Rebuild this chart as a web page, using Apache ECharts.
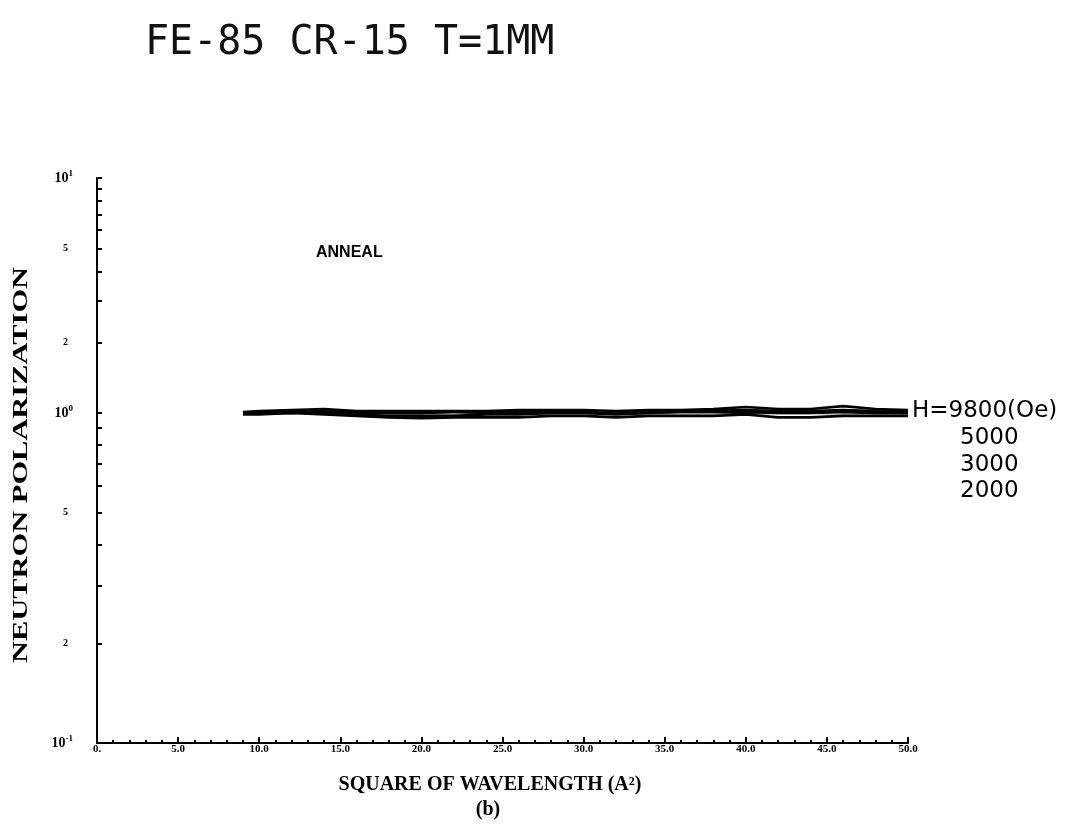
<!DOCTYPE html>
<html>
<head>
<meta charset="utf-8">
<script src="https://cdn.jsdelivr.net/npm/echarts@6/dist/echarts.min.js"></script>
<style>
  html, body { margin: 0; padding: 0; background: #fff; }
  #chart { width: 1076px; height: 826px; }
</style>
</head>
<body>
<div id="chart"></div>
<script>
// Square of wavelength (A^2) at which the polarization was sampled
const lambdaSq = [9, 10, 12, 14, 16, 18, 20, 22, 24, 26, 28, 30, 32, 34, 36, 38, 40, 42, 44, 46, 48, 50];

// Neutron polarization for each applied field
const pol9800 = [1.01, 1.02, 1.03, 1.04, 1.02, 1.02, 1.02, 1.02, 1.02, 1.03, 1.03, 1.03, 1.02, 1.03, 1.03, 1.04, 1.06, 1.04, 1.04, 1.07, 1.04, 1.03];
const pol5000 = [1.00, 1.01, 1.01, 1.02, 1.01, 1.00, 1.00, 1.01, 1.01, 1.01, 1.02, 1.01, 1.00, 1.02, 1.02, 1.03, 1.03, 1.02, 1.02, 1.03, 1.02, 1.02];
const pol3000 = [1.00, 1.00, 1.00, 1.01, 0.99, 0.98, 0.98, 0.98, 0.99, 0.99, 1.00, 1.00, 0.99, 1.00, 1.01, 1.01, 1.01, 1.00, 1.00, 1.01, 1.00, 1.00];
const pol2000 = [0.99, 0.99, 1.00, 0.99, 0.98, 0.97, 0.965, 0.97, 0.97, 0.97, 0.98, 0.98, 0.97, 0.98, 0.98, 0.98, 0.99, 0.97, 0.97, 0.98, 0.98, 0.98];

const fieldLabels = ['H=9800(Oe)', '5000', '3000', '2000'];

// Axis ticks and labels
const xInterval = 5;
const upperTicks = [2, 3, 4, 5, 6, 7, 8, 9, 10];
const upperLabels = [2, 5, 10];
const lowerTicks = [0.1, 0.2, 0.3, 0.4, 0.5, 0.6, 0.7, 0.8, 0.9, 1];
const lowerLabels = [0.1, 0.2, 0.5, 1];

const titleText = 'FE-85 CR-15 T=1MM';
const noteText = 'ANNEAL';
const xName = 'SQUARE OF WAVELENGTH (A²)';
const panelTag = '(b)';
const yName = 'NEUTRON POLARIZATION';

const serif = '"Liberation Serif", "DejaVu Serif", serif';
const sans = '"DejaVu Sans", "Liberation Sans", sans-serif';

const seriesValues = [pol9800, pol5000, pol3000, pol2000];

function pairs(ys) {
  return lambdaSq.map((x, i) => [x, ys[i]]);
}

function near(a, b) { return Math.abs(a - b) < 1e-9; }

// Decades as 10 with a raised exponent, intermediate labels as bare digits
function yLabel(v) {
  if (near(v, 10)) return '{b|10}{s|1}';
  if (near(v, 1)) return '{b|10}{s|0}';
  if (near(v, 0.1)) return '{b|10}{s|-1}';
  if (v < 1) return '{m|' + Math.round(v * 10) + '}';
  return '{m|' + Math.round(v) + '}';
}

const richY = {
  b: { fontFamily: serif, fontWeight: 'bold', fontSize: 14, color: '#000' },
  s: { fontFamily: serif, fontWeight: 'bold', fontSize: 9, color: '#000', padding: [0, 0, 9, 0] },
  m: { fontFamily: serif, fontWeight: 'bold', fontSize: 10, color: '#000', padding: [0, 5, 0, 0] }
};

const axisLineStyle = { color: '#000', width: 2 };

// Each field is drawn in both decade panels; each copy is clipped to its panel
const series = [];
seriesValues.forEach((vals, k) => {
  [0, 1].forEach(g => {
    series.push({
      name: fieldLabels[k],
      type: 'line',
      xAxisIndex: g,
      yAxisIndex: g,
      data: pairs(vals),
      showSymbol: false,
      clip: true,
      smooth: false,
      lineStyle: { color: '#000', width: 2.6 },
      silent: true
    });
  });
});

const chart = echarts.init(document.getElementById('chart'), null, { renderer: 'canvas' });

chart.setOption({
  animation: false,
  backgroundColor: '#fff',
  grid: [
    { left: 97, right: 168, top: 178, height: 235 },
    { left: 97, right: 168, top: 413, height: 330 }
  ],
  xAxis: [
    { type: 'value', gridIndex: 0, min: 0, max: 50, show: false },
    {
      type: 'value', gridIndex: 1, min: 0, max: 50, interval: xInterval,
      axisLine: { lineStyle: axisLineStyle },
      axisTick: { inside: true, length: 6, lineStyle: { color: '#000', width: 2 } },
      minorTick: { show: true, splitNumber: 5, length: 3, lineStyle: { color: '#000', width: 2 } },
      splitLine: { show: false },
      axisLabel: {
        margin: 1,
        fontFamily: serif, fontWeight: 'bold', fontSize: 11, color: '#000',
        formatter: v => (v === 0 ? '0.' : v.toFixed(1))
      }
    }
  ],
  yAxis: [
    {
      type: 'log', gridIndex: 0, min: 1, max: 10, logBase: 10,
      axisLine: { lineStyle: axisLineStyle },
      axisTick: { inside: true, length: 5, customValues: upperTicks, lineStyle: { color: '#000', width: 2 } },
      splitLine: { show: false },
      axisLabel: {
        customValues: upperLabels, margin: 24,
        formatter: yLabel, rich: richY
      }
    },
    {
      type: 'log', gridIndex: 1, min: 0.1, max: 1, logBase: 10,
      axisLine: { lineStyle: axisLineStyle },
      axisTick: { inside: true, length: 5, customValues: lowerTicks, lineStyle: { color: '#000', width: 2 } },
      splitLine: { show: false },
      axisLabel: {
        customValues: lowerLabels, margin: 24,
        formatter: yLabel, rich: richY
      }
    }
  ],
  series: series,
  graphic: [
    {
      type: 'text', left: 145, top: 24,
      style: { text: titleText, fontFamily: '"DejaVu Sans Mono", monospace', fontSize: 40, fill: '#111' }
    },
    {
      type: 'text', left: 316, top: 245,
      style: { text: noteText, fontFamily: '"Liberation Sans", sans-serif', fontWeight: 'bold', fontSize: 16, fill: '#000' }
    },
    {
      type: 'text', left: 912, top: 400,
      style: { text: fieldLabels[0], fontFamily: sans, fontSize: 23, fill: '#000' }
    },
    {
      type: 'text', left: 960, top: 427,
      style: { text: fieldLabels[1], fontFamily: sans, fontSize: 23, fill: '#000' }
    },
    {
      type: 'text', left: 960, top: 454,
      style: { text: fieldLabels[2], fontFamily: sans, fontSize: 23, fill: '#000' }
    },
    {
      type: 'text', left: 960, top: 480,
      style: { text: fieldLabels[3], fontFamily: sans, fontSize: 23, fill: '#000' }
    },
    {
      type: 'text', x: 490, y: 785,
      style: { text: xName, fontFamily: serif, fontWeight: 'bold', fontSize: 20, fill: '#000', align: 'center', verticalAlign: 'middle' }
    },
    {
      type: 'text', x: 488, y: 810,
      style: { text: panelTag, fontFamily: serif, fontWeight: 'bold', fontSize: 20, fill: '#000', align: 'center', verticalAlign: 'middle' }
    },
    {
      type: 'text', x: 22, y: 465, rotation: Math.PI / 2, scaleX: 1.45,
      style: { text: yName, fontFamily: serif, fontWeight: 'bold', fontSize: 21, fill: '#000', align: 'center', verticalAlign: 'middle' }
    }
  ]
});
</script>
</body>
</html>
